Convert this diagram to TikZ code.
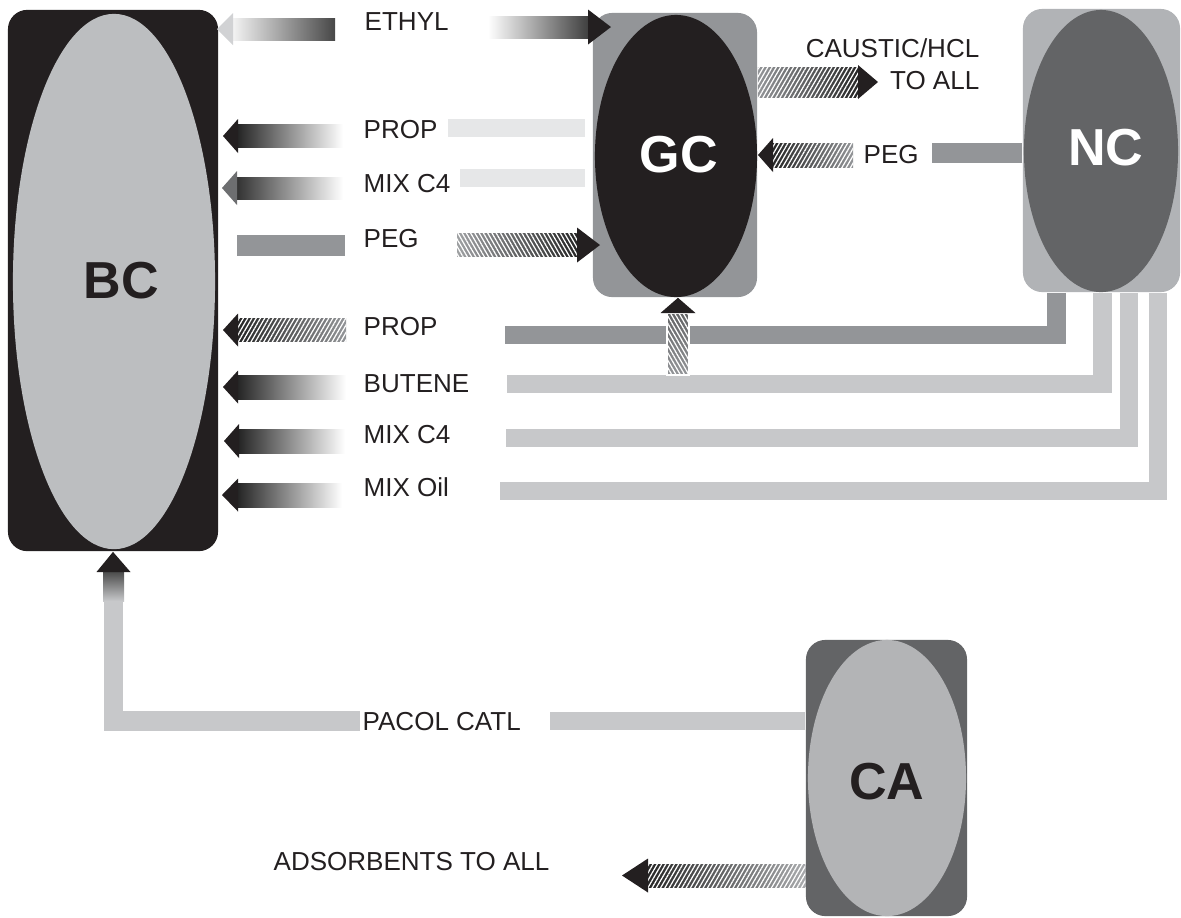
\documentclass[tikz,border=0pt]{standalone}
\usepackage{fontspec}
\setmainfont{Liberation Sans}
\usetikzlibrary{calc,shapes.geometric,patterns.meta}
\definecolor{ink}{HTML}{231F20}
\definecolor{gA}{HTML}{939598}
\definecolor{gB}{HTML}{C7C8CA}
\definecolor{gC}{HTML}{E6E7E8}
\definecolor{gD}{HTML}{636466}
\definecolor{gE}{HTML}{BCBEC0}
\definecolor{gF}{HTML}{B1B3B6}
\definecolor{gG}{HTML}{6D6E70}
\definecolor{gH}{HTML}{D1D2D4}
\tikzset{
 unitbox/.style={rectangle, rounded corners=5.5pt, inner sep=0, draw=none},
 unitcore/.style={ellipse, inner sep=0, draw=none},
 big/.style={font=\fontsize{14.8pt}{16pt}\selectfont\bfseries, inner sep=0},
 lbl/.style={font=\fontsize{7.4pt}{8pt}\selectfont, inner sep=0, anchor=base west, text=ink},
 bar/.style={line width=5.2pt, line cap=butt, line join=miter},
 hatchA/.style={postaction={fill opacity=0.35, pattern={Lines[angle=60,distance=1.05pt,line width=0.35pt]}, pattern color=white}},
 hatchB/.style={postaction={fill opacity=0.35, pattern={Lines[angle=-60,distance=1.05pt,line width=0.35pt]}, pattern color=white}},
}
% horizontal fat arrow: tail, tip, head-base x offset from tip, shaft half height, head half height, shaft style, head colour
\newcommand\hfat[7]{%
 \path[#6] ($(#1)+(0,#4)$) rectangle ($(#2)+(#3,-#4)$);
 \fill[#7] ($(#2)+(#3,#5)$) -- (#2) -- ($(#2)+(#3,-#5)$) -- cycle;}
\begin{document}
\begin{tikzpicture}[x=0.01cm,y=-0.01cm]
\useasboundingbox (0,0) rectangle (1181,917);

% ---------- units ----------
\node[unitbox, fill=ink, minimum width=2.10cm, minimum height=5.41cm] (BC) at (113,280.5) {};
\node[unitcore, fill=gE, minimum width=2.02cm, minimum height=5.35cm] (BCcore) at (114,281.5) {};
\node[big, text=ink] (BCt) at (121.5,281) {BC};

\node[unitbox, fill=gA, minimum width=1.64cm, minimum height=2.84cm] (GC) at (675,155) {};
\node[unitcore, fill=ink, minimum width=1.62cm, minimum height=2.82cm] (GCcore) at (676,156) {};
\node[big, text=white] (GCt) at (679,155) {GC};

\node[unitbox, fill=gF, minimum width=1.57cm, minimum height=2.83cm] (NC) at (1101.5,150.5) {};
\node[unitcore, fill=gD, minimum width=1.54cm, minimum height=2.82cm] (NCcore) at (1101,151) {};
\node[big, text=white] (NCt) at (1106,148) {NC};

\node[unitbox, fill=gD, minimum width=1.61cm, minimum height=2.76cm] (CA) at (886.5,778) {};
\node[unitcore, fill=gE!95!black, minimum width=1.58cm, minimum height=2.76cm] (CAcore) at (887,778) {};
\node[big, text=ink] (CAt) at (887,782) {CA};

% ---------- coordinates ----------
\coordinate (nc1) at ($(NC.south)+(-45,0)$);
\coordinate (nc2) at ($(NC.south)+(1,0)$);
\coordinate (nc3) at ($(NC.south)+(27.5,0)$);
\coordinate (nc4) at ($(NC.south)+(56.5,0)$);
\coordinate (propEnd) at (505,335);
\coordinate (butEnd) at (507,384);
\coordinate (mixEnd) at (506,438);
\coordinate (oilEnd) at (500,491);
\coordinate (pacolA) at (550,721);
\coordinate (pacolB) at (360,721);
\coordinate (bcFeed) at (113.5,601);
\coordinate (pegNCend) at (932,153);

% ---------- bars / lines ----------
\draw[bar, gC] (448,128) coordinate (p1a) -- (585,128) coordinate (p1b);
\draw[bar, gC] (460,178) coordinate (m1a) -- (585,178) coordinate (m1b);
\draw[bar, gA, line width=6pt] (237,245.5) coordinate (pg1a) -- (345,245.5) coordinate (pg1b);
\draw[bar, gA, line width=5.7pt] (NC.west |- pegNCend) -- (pegNCend);
\draw[bar, gA] (nc1) |- (propEnd);
\draw[bar, gB] (nc2) |- (butEnd);
\draw[bar, gB] (nc3) |- (mixEnd);
\draw[bar, gB] (nc4) |- (oilEnd);
\draw[bar, gB] (CA.west |- pacolA) -- (pacolA);
\draw[bar, gB, line width=5.5pt] (pacolB) -| (bcFeed);

% ---------- arrows ----------
\coordinate (eLt) at (335,29);   \coordinate (eLp) at (217,29);
\hfat{eLt}{eLp}{16}{11}{16}{left color=white!90!gray, right color=black!72}{gH}
\coordinate (eRt) at (488,27);   \coordinate (eRp) at (611,27);
\hfat{eRt}{eRp}{-23}{11}{17.5}{left color=white, right color=black!75}{ink}

\coordinate (p1t) at (343,136);  \coordinate (p1p) at (223,136);
\hfat{p1t}{p1p}{15}{11.5}{17}{left color=black!85, right color=white}{ink}
\coordinate (m1t) at (343,188);  \coordinate (m1p) at (222,188);
\hfat{m1t}{m1p}{15}{11}{17}{left color=black!80, right color=white}{gG}
\coordinate (pgt) at (457,245);  \coordinate (pgp) at (600,245);
\hfat{pgt}{pgp}{-23}{11.5}{17.5}{left color=gA!90, right color=black!85, hatchB}{ink}

\coordinate (p2t) at (346,330);  \coordinate (p2p) at (223,330);
\hfat{p2t}{p2p}{15}{11.5}{16.5}{left color=black!85, right color=gA, hatchA}{ink}
\coordinate (bt) at (346,387);   \coordinate (bp) at (223,387);
\hfat{bt}{bp}{15}{12}{16.5}{left color=black!85, right color=white}{ink}
\coordinate (m2t) at (345,441);  \coordinate (m2p) at (224,441);
\hfat{m2t}{m2p}{15}{12}{17}{left color=black!85, right color=white}{ink}
\coordinate (ot) at (342,495);   \coordinate (op) at (222,495);
\hfat{ot}{op}{16}{12}{16.5}{left color=black!85, right color=white}{ink}

\coordinate (ct) at (GC.east |- 0,82); \coordinate (cp) at (878,82);
\hfat{ct}{cp}{-20}{15}{17}{left color=gA, right color=black!85, hatchA}{ink}
\coordinate (pnt) at (853,155);  \coordinate (pnp) at (758,155);
\hfat{pnt}{pnp}{15}{12}{17}{left color=black!85, right color=gA, hatchA}{ink}

\coordinate (gut) at (678,375);
\path[draw=white, line width=0.7pt, top color=gD, bottom color=gA, hatchB] (667,375) rectangle (689,313);
\fill[ink] (660.5,313) -- (GC.south -| gut) -- (695.5,313) -- cycle;

\path[top color=black!70, bottom color=gB] (103,601) rectangle (124,572);
\fill[ink] (96.5,572) -- (BC.south) -- (130.5,572) -- cycle;

\coordinate (adt) at (CA.west |- 0,875.5); \coordinate (adp) at (622,875.5);
\hfat{adt}{adp}{26}{11.5}{17}{left color=black!85, right color=gA!80, hatchA}{ink}

% ---------- labels ----------
\node[lbl] (lEthyl) at (364,30) {ETHYL};
\node[lbl] (lProp1) at (363,138) {PROP};
\node[lbl] (lMix1) at (363,192) {MIX C4};
\node[lbl] (lPeg1) at (363,247) {PEG};
\node[lbl] (lProp2) at (363,335) {PROP};
\node[lbl] (lBut) at (363,392) {BUTENE};
\node[lbl] (lMix2) at (363,443) {MIX C4};
\node[lbl] (lOil) at (363,496) {MIX Oil};
\node[lbl] (lPacol) at (362,730) {PACOL CATL};
\node[lbl, anchor=base east] (lCaus) at (980,57) {CAUSTIC/HCL};
\node[lbl, anchor=base east] (lToall) at (980,89) {TO ALL};
\node[lbl] (lPeg2) at (863,163) {PEG};
\node[lbl] (lAds) at (273,870) {ADSORBENTS TO ALL};
\end{tikzpicture}
\end{document}
